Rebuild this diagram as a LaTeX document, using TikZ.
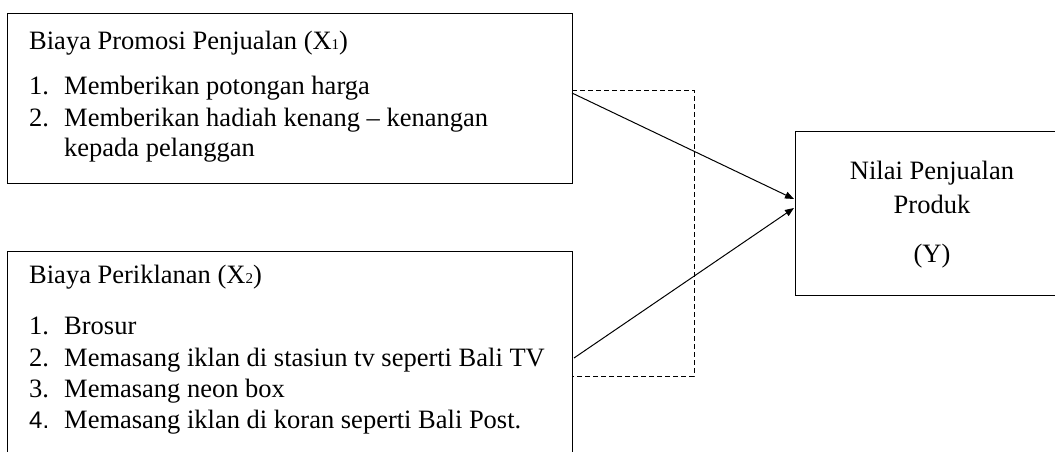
\documentclass[tikz,border=0pt]{standalone}
\usepackage{fontspec}
\setmainfont{Liberation Serif}
\newfontfamily\arialfont{Liberation Sans}
\usetikzlibrary{arrows.meta}
\newcommand{\sbx}[1]{{\fontsize{15}{15}\selectfont #1}}
\begin{document}
\begin{tikzpicture}[x=1pt,y=-1pt,
  box/.style={draw, line width=1.2pt, rectangle, inner sep=0pt, anchor=north west},
  txt/.style={inner sep=0pt, anchor=base west, font=\fontsize{26.5}{31}\selectfont},
  ctxt/.style={inner sep=0pt, anchor=base, font=\fontsize{26.5}{31}\selectfont},
  arr/.style={line width=1pt, -{Triangle[length=9pt,width=7pt]}},
  dash box/.style={line width=1pt, dash pattern=on 5pt off 3pt}]
\useasboundingbox (0,0) rectangle (1055,452);
\clip (0,0) rectangle (1055,452);
\fill[white] (0,0) rectangle (1055,452);
% boxes
\node[box, minimum width=565pt, minimum height=170pt] (b1) at (7,13) {};
\node[box, minimum width=565pt, minimum height=230pt] (b2) at (7,251) {};
\node[box, minimum width=290pt, minimum height=164pt] (y) at (795,131) {};
% box 1 text
\node[txt] (t1) at (29,50) {Biaya Promosi Penjualan (X\sbx{1})};
\node[txt] (n11) at (29,95) {1.};
\node[txt] (i11) at (64,95) {Memberikan potongan harga};
\node[txt] (n12) at (29,126) {2.};
\node[txt] (i12) at (64,126) {Memberikan hadiah kenang -- kenangan};
\node[txt] (i13) at (64,156) {kepada pelanggan};
% box 2 text
\node[txt] (t2) at (29,283) {Biaya Periklanan (X\sbx{2})};
\node[txt] (n21) at (29,334) {1.};
\node[txt] (i21) at (64,334) {Brosur};
\node[txt] (n22) at (29,366) {2.};
\node[txt] (i22) at (64,366) {Memasang iklan di stasiun tv seperti Bali TV};
\node[txt] (n23) at (29,397) {3.};
\node[txt] (i23) at (64,397) {Memasang neon box};
\node[txt, font=\arialfont\fontsize{24}{31}\selectfont] (n24) at (29,428) {4.};
\node[txt] (i24) at (64,428) {Memasang iklan di koran seperti Bali Post.};
% Y box text
\node[ctxt] (y1) at (932,179) {Nilai Penjualan};
\node[ctxt] (y2) at (932,213) {Produk};
\node[ctxt] (y3) at (932,262) {(Y)};
% dashed frame
\coordinate (d1) at (572,90);
\coordinate (d2) at (694,376);
\coordinate (d3) at (572,376);
\draw[dash box] (d1) -| (d2) -- (d3);
% arrows
\coordinate (a1s) at (572,93);
\coordinate (a2s) at (574,358);
\coordinate (a1e) at (794,199);
\coordinate (a2e) at (794,208);
\draw[arr] (a1s) -- (a1e);
\draw[arr] (a2s) -- (a2e);
\end{tikzpicture}
\end{document}
